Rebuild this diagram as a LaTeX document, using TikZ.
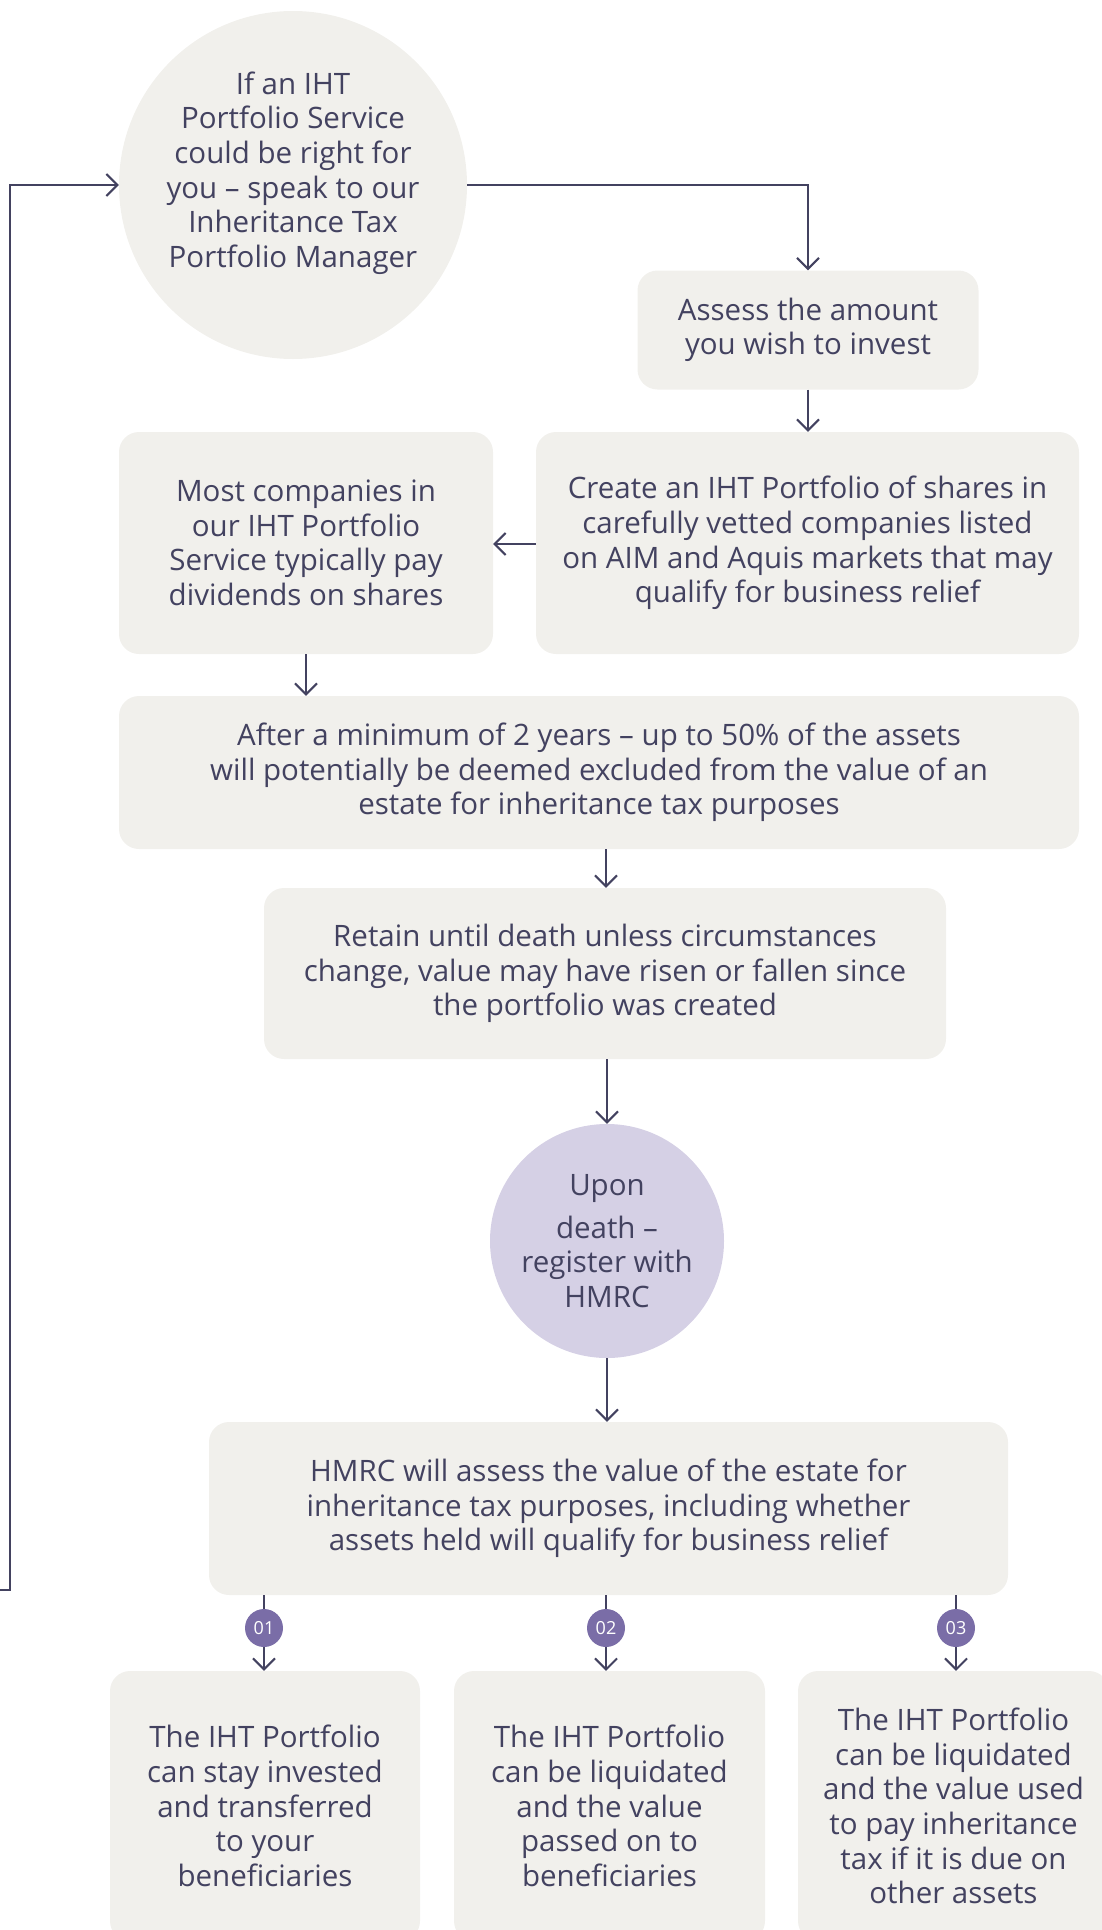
\documentclass[tikz,border=0pt]{standalone}
\usepackage{fontspec}
\setmainfont{Open Sans}
\usetikzlibrary{arrows.meta}
\definecolor{ink}{HTML}{434260}
\definecolor{boxfill}{HTML}{F1F0EC}
\definecolor{lilac}{HTML}{D5D0E5}
\definecolor{plum}{HTML}{7A6DA7}
\tikzset{
  txt/.style={text=ink, font=\fontsize{29.5}{34.6}\selectfont, align=center, inner sep=0pt},
  stepbox/.style={txt, fill=boxfill, rounded corners=20pt},
  bubble/.style={circle, inner sep=0pt},
  badge/.style={circle, fill=plum, text=white, minimum size=38pt, inner sep=0pt, font=\fontsize{18}{18}\selectfont},
  arr/.style={draw=ink, line width=2pt, -{Straight Barb[length=11pt,width=22pt]}},
  link/.style={draw=ink, line width=2pt},
}
\begin{document}
\begin{tikzpicture}[x=1pt,y=-1pt]
  \useasboundingbox (0,0) rectangle (1102,1930);
  % Define nodes
  \node[bubble, fill=boxfill, minimum size=348pt] (consult) at (293,185) {};
  \node[txt] at ([yshift=12pt]consult.center) {If an IHT\\Portfolio Service\\could be right for\\you -- speak to our\\Inheritance Tax\\Portfolio Manager};
  \node[stepbox, minimum width=341pt, minimum height=119pt] (assess) at (808,330) {Assess the amount\\you wish to invest};
  \node[stepbox, minimum width=543pt, minimum height=222pt] (create) at (807.5,543) {Create an IHT Portfolio of shares in\\carefully vetted companies listed\\on AIM and Aquis markets that may\\qualify for business relief};
  \node[stepbox, minimum width=374pt, minimum height=222pt] (most) at (306,543) {Most companies in\\our IHT Portfolio\\Service typically pay\\dividends on shares};
  \node[stepbox, minimum width=960pt, minimum height=153pt] (after) at (599,772.5) {After a minimum of 2 years -- up to 50\% of the assets\\will potentially be deemed excluded from the value of an\\estate for inheritance tax purposes};
  \node[stepbox, minimum width=682pt, minimum height=171pt] (retain) at (605,973.5) {Retain until death unless circumstances\\change, value may have risen or fallen since\\the portfolio was created};
  \node[bubble, txt, fill=lilac, minimum size=234pt] (upon) at (607,1241) {Upon\\[8pt]death --\\register with\\HMRC};
  \node[stepbox, minimum width=799pt, minimum height=173pt] (hmrc) at (608.5,1508.5) {HMRC will assess the value of the estate for\\inheritance tax purposes, including whether\\assets held will qualify for business relief};
  \node[stepbox, minimum width=310pt, minimum height=270pt] (stay) at (265,1806) {The IHT Portfolio\\can stay invested\\and transferred\\to your\\beneficiaries};
  \node[stepbox, minimum width=311pt, minimum height=270pt] (pass) at (609.5,1806) {The IHT Portfolio\\can be liquidated\\and the value\\passed on to\\beneficiaries};
  \node[stepbox, minimum width=311pt, minimum height=270pt] (pay) at (953.5,1806) {The IHT Portfolio\\can be liquidated\\and the value used\\to pay inheritance\\tax if it is due on\\other assets};
  \node[badge] (b1) at (264,1628) {01};
  \node[badge] (b2) at (606,1628) {02};
  \node[badge] (b3) at (956,1628) {03};
  \coordinate (loopstart) at (0,1590);
  \coordinate (loopcorner) at (10,1590);
  % Connect the nodes
  \draw[arr] (loopstart) -- (loopcorner) |- (consult.west);
  \draw[arr] (consult.east) -| (assess.north);
  \draw[arr] (assess.south) -- (create.north -| assess.south);
  \draw[arr] (create.west |- 0,544) -- (most.east |- 0,544);
  \draw[arr] (most.south) -- (after.north -| most.south);
  \draw[arr] (after.south -| 606,0) -- (retain.north -| 606,0);
  \draw[arr] (retain.south -| upon.north) -- (upon.north);
  \draw[arr] (upon.south) -- (hmrc.north -| upon.south);
  \foreach \b/\o in {b1/stay, b2/pass, b3/pay} {
    \draw[link] (hmrc.south -| \b) -- (\b);
    \draw[arr] (\b) -- (\o.north -| \b);
  }
\end{tikzpicture}
\end{document}
